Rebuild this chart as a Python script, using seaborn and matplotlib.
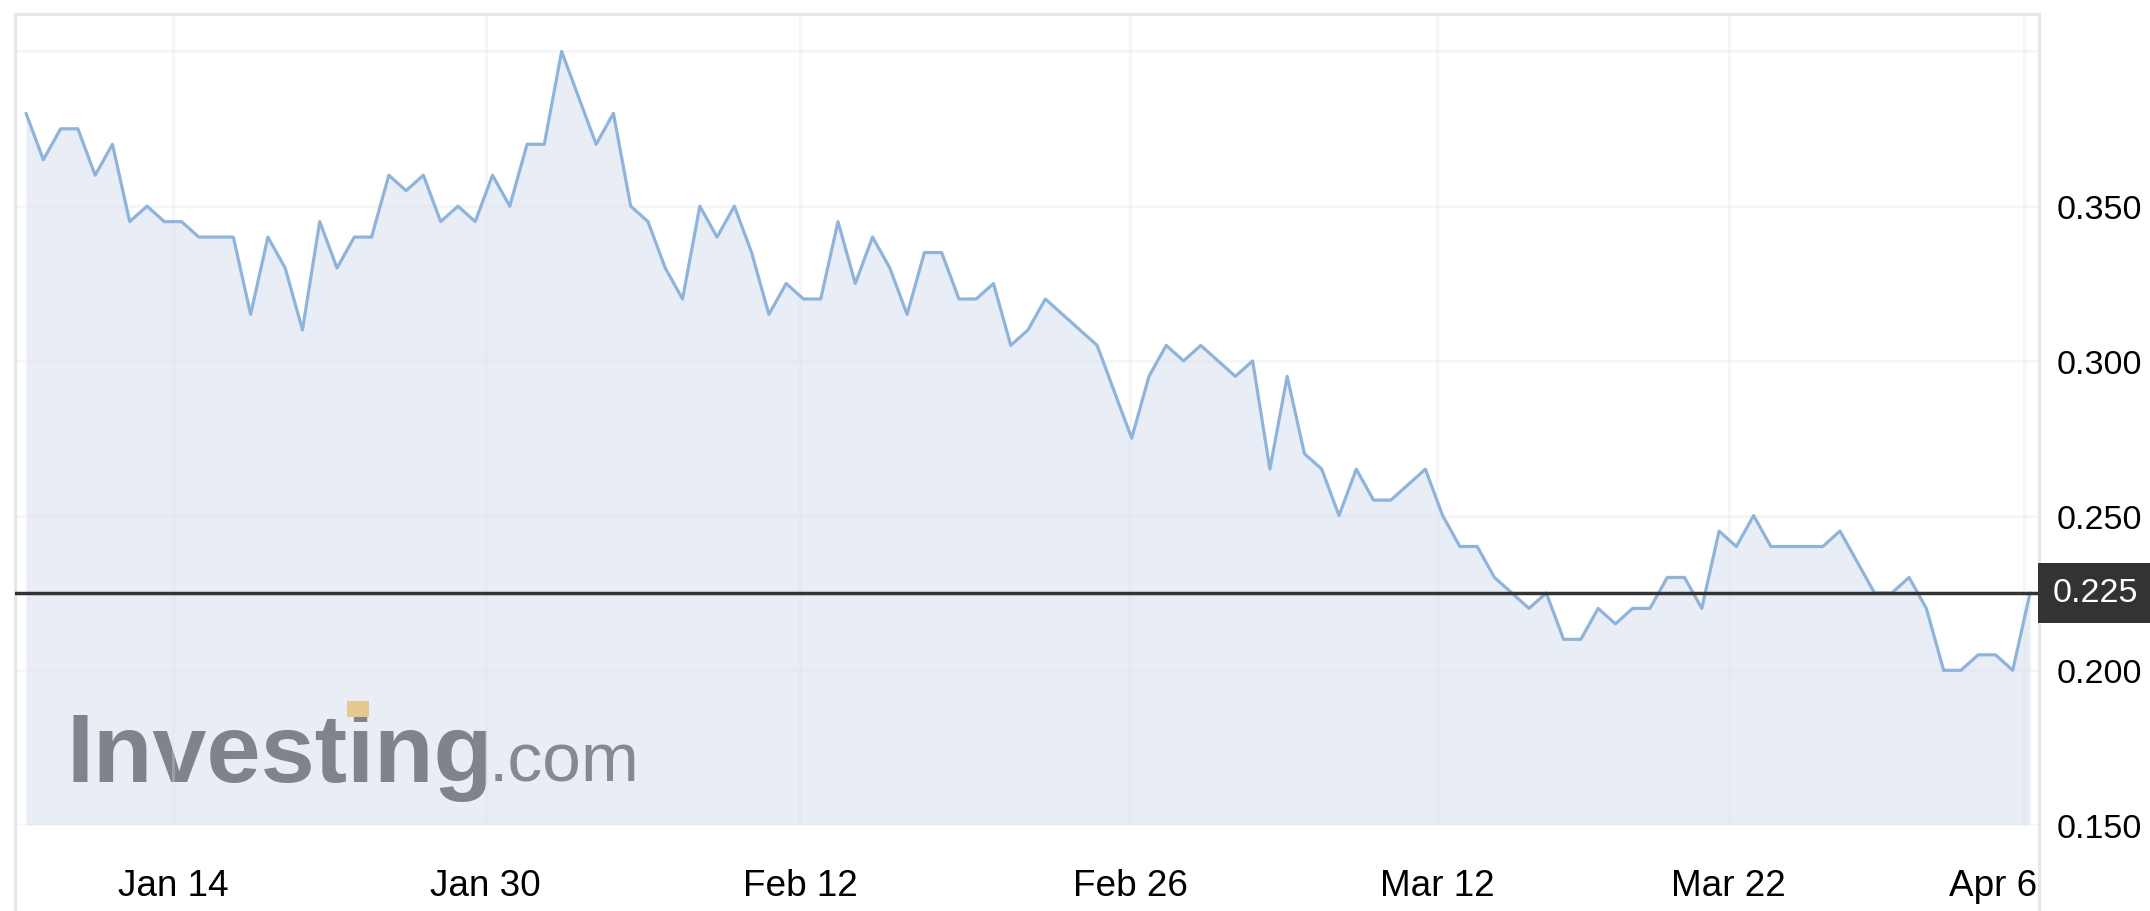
import matplotlib
matplotlib.use("Agg")
import matplotlib.pyplot as plt
import matplotlib.transforms as mtransforms
from matplotlib.lines import Line2D
from matplotlib.patches import Rectangle
import seaborn as sns
import pandas as pd

# --- Data (daily closes) ---
prices = [
    0.380, 0.365, 0.375, 0.375, 0.360, 0.370, 0.345, 0.350, 0.345, 0.345,
    0.340, 0.340, 0.340, 0.315, 0.340, 0.330, 0.310, 0.345, 0.330, 0.340,
    0.340, 0.360, 0.355, 0.360, 0.345, 0.350, 0.345, 0.360, 0.350, 0.370,
    0.370, 0.400, 0.385, 0.370, 0.380, 0.350, 0.345, 0.330, 0.320, 0.350,
    0.340, 0.350, 0.335, 0.315, 0.325, 0.320, 0.320, 0.345, 0.325, 0.340,
    0.330, 0.315, 0.335, 0.335, 0.320, 0.320, 0.325, 0.305, 0.310, 0.320,
    0.315, 0.310, 0.305, 0.290, 0.275, 0.295, 0.305, 0.300, 0.305, 0.300,
    0.295, 0.300, 0.265, 0.295, 0.270, 0.265, 0.250, 0.265, 0.255, 0.255,
    0.260, 0.265, 0.250, 0.240, 0.240, 0.230, 0.225, 0.220, 0.225, 0.210,
    0.210, 0.220, 0.215, 0.220, 0.220, 0.230, 0.230, 0.220, 0.245, 0.240,
    0.250, 0.240, 0.240, 0.240, 0.240, 0.245, 0.235, 0.225, 0.225, 0.230,
    0.220, 0.200, 0.200, 0.205, 0.205, 0.200, 0.225,
]
date_labels = ["Jan 14", "Jan 30", "Feb 12", "Feb 26", "Mar 12", "Mar 22", "Apr 6"]
date_ticks = [8.5, 26.6, 44.8, 63.9, 81.7, 98.55, 115.63]
price_ticks = [0.150, 0.200, 0.250, 0.300, 0.350, 0.400]
price_labels = ["0.150", "0.200", "0.250", "0.300", "0.350", ""]

W, H = 2150, 912
FRAME = "#e6e6ee"

sns.set_theme(style="white")
plt.rcParams["font.family"] = ["Liberation Sans", "DejaVu Sans"]

fig = plt.figure(figsize=(W / 100, H / 100), dpi=100)
ax = fig.add_axes([15 / W, 86 / H, 2024 / W, 811 / H])

df = pd.DataFrame({"idx": range(len(prices)), "price": prices})

# area + line
ax.fill_between(df["idx"], df["price"], price_ticks[0],
                color="#e9edf5", lw=0, zorder=1)
sns.lineplot(data=df, x="idx", y="price", ax=ax, color="#8fb4db",
             lw=2.3, zorder=3)

# last price line and tag
last = prices[-1]
ax.axhline(last, color="#333333", lw=2.5, zorder=4)
ax.annotate(f"{last:.3f}", xy=(1, last), xycoords=("axes fraction", "data"),
            xytext=(9.5, 0), textcoords="offset points", ha="left", va="center",
            color="white", fontsize=24.5, annotation_clip=False, zorder=6,
            bbox=dict(boxstyle="square,pad=0.42", fc="#333333", ec="none"))

# watermark
ax.text(0.0252, 0.0543, "Investing", transform=ax.transAxes, fontsize=70,
        fontweight="bold", color="#7e838c", va="baseline", ha="left", zorder=2)
ax.text(0.2340, 0.0543, ".com", transform=ax.transAxes, fontsize=50,
        color="#858a92", va="baseline", ha="left", zorder=2)
ax.add_patch(Rectangle((0.1640, 0.1330), 0.0110, 0.0200, transform=ax.transAxes,
                       color="#e7c891", lw=0, zorder=2.2))

# axes, ticks, grid
ax.set_xlim(-0.64, 116.52)
ax.set_ylim(0.15, 0.4121)
ax.set_xticks(date_ticks, date_labels)
ax.set_yticks(price_ticks, price_labels)
ax.yaxis.tick_right()
ax.set_xlabel("")
ax.set_ylabel("")
ax.tick_params(axis="x", length=0, pad=31, labelsize=26.6, labelcolor="black")
ax.tick_params(axis="y", length=0, pad=13, labelsize=24.5, labelcolor="black")
ax.set_axisbelow(False)
ax.grid(True, color="#e2e3e8", alpha=0.3, lw=2.2)

last_lbl = ax.get_xticklabels()[-1]
last_lbl.set_ha("right")
last_lbl.set_transform(last_lbl.get_transform() +
                       mtransforms.ScaledTranslation(0.14, 0, fig.dpi_scale_trans))

for side in ["top", "left", "right"]:
    ax.spines[side].set_color(FRAME)
    ax.spines[side].set_linewidth(2.2)
ax.spines["bottom"].set_visible(False)

# frame sides run on below the plot area
for xf in [15 / W, 2039 / W]:
    fig.add_artist(Line2D([xf, xf], [0, 86 / H], transform=fig.transFigure,
                          color=FRAME, lw=2.2))

fig.savefig("out.png", dpi=100, facecolor="white")
